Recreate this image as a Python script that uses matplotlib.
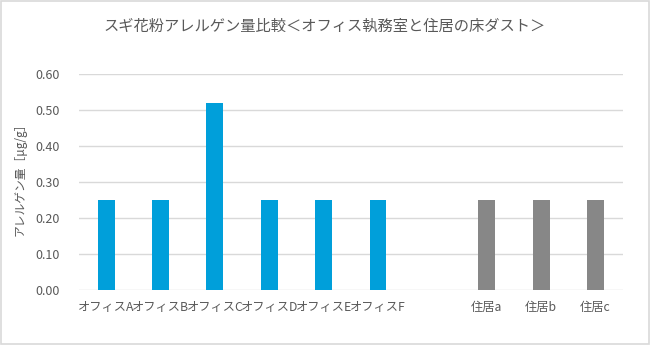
import matplotlib
matplotlib.use("Agg")
import matplotlib.pyplot as plt
from matplotlib.patches import Rectangle

plt.rcParams['font.family'] = ['Noto Sans CJK JP', 'DejaVu Sans']

categories = ["オフィスA", "オフィスB", "オフィスC", "オフィスD", "オフィスE", "オフィスF", "",
              "住居a", "住居b", "住居c"]
values = [0.25, 0.25, 0.52, 0.25, 0.25, 0.25, None, 0.25, 0.25, 0.25]
groups = ["office"] * 6 + [None] + ["home"] * 3
colors = {"office": "#009FDA", "home": "#878787"}
yticks = [0.0, 0.1, 0.2, 0.3, 0.4, 0.5, 0.6]
title = "スギ花粉アレルゲン量比較＜オフィス執務室と住居の床ダスト＞"
ylabel = "アレルゲン量［μg/g］"

fig = plt.figure(figsize=(6.5, 3.45), dpi=100)
ax = fig.add_axes([0.1215, 0.1594, 0.8365, 0.6261])

xs = list(range(len(categories)))
for x, v, g in zip(xs, values, groups):
    if v is None:
        continue
    ax.bar(x, v, width=0.31, color=colors[g], zorder=3)

ax.set_xlim(-0.5, len(categories) - 0.5)
ax.set_ylim(0, 0.6)
ax.set_yticks(yticks)
ax.set_yticklabels([f"{t:.2f}" for t in yticks], fontsize=9, color="#595959")
ax.set_xticks(xs)
ax.set_xticklabels(categories, fontsize=8.8, color="#595959")
ax.tick_params(length=0, pad=8)
ax.tick_params(axis='y', pad=14)
ax.grid(axis='y', color="#D9D9D9", linewidth=1, zorder=0)
for s in ax.spines.values():
    s.set_visible(False)

fig.text(0.5, 0.925, title, ha='center', va='center', fontsize=11, color="#595959")
fig.text(0.031, 0.49, ylabel, rotation=90, ha='center', va='center', fontsize=8.5, color="#595959")

fig.patches.append(Rectangle((0.001, 0.002), 0.997, 0.995, transform=fig.transFigure,
                             fill=False, edgecolor="#D9D9D9", linewidth=1.2))

fig.savefig("out.png", dpi=100)
